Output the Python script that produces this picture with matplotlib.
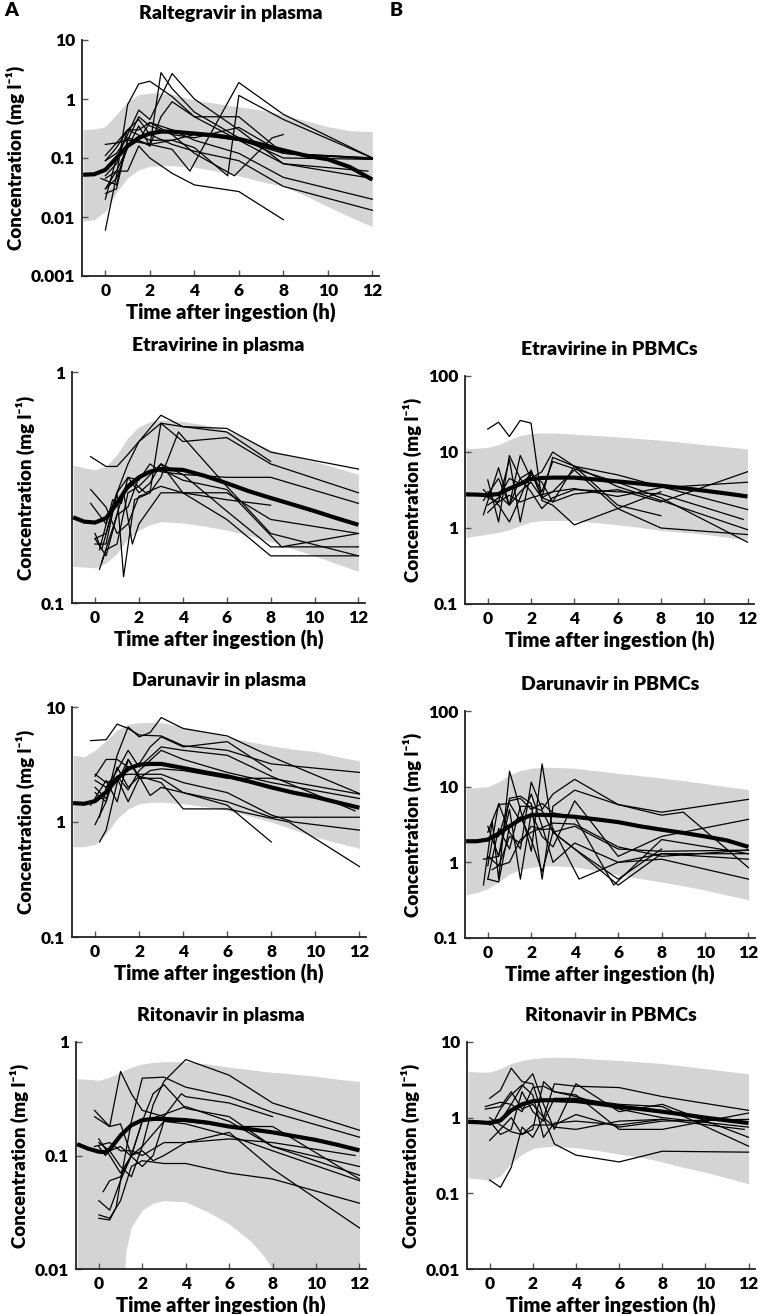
import numpy as np
import matplotlib
matplotlib.use("Agg")
from matplotlib import pyplot as plt

plt.rcParams['font.family'] = ['Lato', 'DejaVu Sans']
plt.rcParams['font.weight'] = 'heavy'

band_col = '#d4d4d4'

# ---------------- Raltegravir in plasma ----------------
ral_bt = [-1, -0.5, 0, 0.5, 1, 1.5, 2, 2.5, 3, 4, 5, 6, 7, 8, 9, 10, 11, 12]
ral_hi = [0.30, 0.31, 0.34, 0.55, 0.91, 1.18, 1.26, 1.26, 1.2, 0.96, 0.84, 0.74, 0.65, 0.54, 0.43, 0.34, 0.29, 0.28]
ral_lo = [0.0085, 0.009, 0.0125, 0.026, 0.046, 0.063, 0.072, 0.074, 0.074, 0.07, 0.06, 0.05, 0.04, 0.033, 0.023, 0.015, 0.01, 0.0069]
ral_med = [0.052, 0.053, 0.063, 0.1, 0.16, 0.22, 0.26, 0.28, 0.28, 0.26, 0.24, 0.21, 0.17, 0.135, 0.11, 0.095, 0.07, 0.043]
ral_t = [
    [0, 0.5, 1, 1.5, 2, 3, 4, 6, 8, 12],
    [0, 0.5, 1, 1.5, 2, 2.5, 3, 4, 6, 8, 12],
    [0, 0.5, 1, 1.5, 2, 3, 4, 6, 8, 11.8],
    [0, 0.5, 1, 2, 3, 3.8, 6, 8, 12],
    [0, 0.5, 1, 1.5, 2, 3, 4, 5.8, 7.5, 8],
    [0, 0.5, 1, 1.5, 2, 3, 4, 6, 8],
    [0, 0.5, 1, 2, 3, 4, 5.5, 6, 8, 12],
    [-0.2, 0.5, 1, 1.5, 2, 3, 4, 6, 8, 12],
    [0, 0.5, 1, 1.5, 2, 3, 4, 6, 8, 12],
    [0, 0.5, 1, 1.5, 2, 3, 4, 6, 8, 12],
    [0, 0.5, 1, 2, 3, 4, 6, 8, 12],
    [0, 0.5, 1, 1.5, 2, 2.5, 3, 4, 6, 8, 12],
]
ral_c = [
    [0.006, 0.05, 0.8, 1.8, 2.0, 1.1, 0.5, 0.2, 0.12, 0.1],
    [0.03, 0.045, 0.15, 0.35, 0.16, 2.8, 1.5, 0.6, 0.22, 0.1, 0.095],
    [0.02, 0.1, 0.25, 0.65, 0.45, 2.7, 1.0, 0.3, 0.08, 0.06],
    [0.09, 0.12, 0.22, 0.17, 0.14, 0.06, 1.9, 0.55, 0.1],
    [0.05, 0.08, 0.3, 0.3, 0.4, 0.25, 0.12, 0.05, 0.22, 0.25],
    [0.045, 0.06, 0.06, 0.16, 0.1, 0.055, 0.035, 0.027, 0.009],
    [0.11, 0.18, 0.3, 0.2, 0.2, 0.15, 0.05, 1.15, 0.45, 0.1],
    [0.045, 0.035, 0.2, 0.5, 0.35, 0.25, 0.22, 0.33, 0.12, 0.095],
    [0.025, 0.03, 0.2, 0.2, 0.4, 0.3, 0.2, 0.12, 0.047, 0.02],
    [0.09, 0.15, 0.3, 0.45, 0.25, 0.17, 0.13, 0.09, 0.033, 0.013],
    [0.17, 0.18, 0.2, 0.17, 0.2, 0.25, 0.2, 0.08, 0.045],
    [0.03, 0.06, 0.15, 0.2, 0.16, 0.5, 0.9, 0.5, 0.5, 0.12, 0.1],
]

# ---------------- Etravirine in plasma ----------------
etp_bt = [-1, -0.5, 0, 0.5, 1, 1.5, 2, 2.5, 3, 4, 5, 6, 7, 8, 9, 10, 11, 12]
etp_hi = [0.395, 0.385, 0.377, 0.39, 0.44, 0.52, 0.58, 0.61, 0.62, 0.61, 0.59, 0.56, 0.51, 0.46, 0.43, 0.41, 0.385, 0.36]
etp_lo = [0.144, 0.143, 0.142, 0.149, 0.164, 0.19, 0.207, 0.218, 0.225, 0.222, 0.215, 0.207, 0.196, 0.185, 0.172, 0.16, 0.148, 0.137]
etp_med = [0.235, 0.225, 0.223, 0.233, 0.27, 0.32, 0.35, 0.37, 0.38, 0.377, 0.355, 0.33, 0.305, 0.285, 0.267, 0.25, 0.233, 0.218]
etp_t = [
    [-0.2, 0.5, 1, 1.5, 2, 3, 4, 6, 8],
    [0, 0.5, 1, 1.5, 2, 3, 4, 6, 8, 12],
    [-0.2, 0.5, 1, 1.5, 2, 2.5, 3, 4, 6, 8, 12],
    [-0.2, 0.5, 1, 1.5, 2, 2.5, 3, 4, 6, 8, 12],
    [0, 0.5, 1, 1.3, 1.8, 2.5, 3, 3.8, 6, 8, 12],
    [0.2, 0.5, 1, 1.5, 2, 3, 4, 6, 8, 12],
    [0, 0.3, 0.8, 1.3, 1.7, 2, 3, 4, 6, 8],
    [0.2, 0.8, 1.2, 1.5, 2, 2.5, 3, 4, 6, 8, 12],
    [0, 0.5, 1, 1.5, 2, 3, 4, 6, 8.5, 12],
    [0.3, 0.8, 1.3, 1.8, 2.3, 3, 4, 6, 8, 12],
]
etp_c = [
    [0.43, 0.39, 0.39, 0.44, 0.5, 0.6, 0.58, 0.55, 0.41],
    [0.19, 0.2, 0.3, 0.4, 0.5, 0.65, 0.58, 0.57, 0.45, 0.38],
    [0.31, 0.26, 0.2, 0.22, 0.29, 0.3, 0.6, 0.5, 0.52, 0.4, 0.3],
    [0.27, 0.22, 0.3, 0.35, 0.34, 0.4, 0.37, 0.36, 0.25, 0.175, 0.175],
    [0.18, 0.18, 0.3, 0.13, 0.28, 0.3, 0.35, 0.55, 0.32, 0.2, 0.16],
    [0.14, 0.17, 0.18, 0.3, 0.32, 0.4, 0.36, 0.35, 0.35, 0.27],
    [0.2, 0.17, 0.25, 0.3, 0.18, 0.22, 0.3, 0.3, 0.28, 0.265],
    [0.17, 0.28, 0.27, 0.35, 0.3, 0.33, 0.4, 0.3, 0.23, 0.16, 0.16],
    [0.19, 0.16, 0.24, 0.26, 0.35, 0.38, 0.34, 0.31, 0.175, 0.2],
    [0.15, 0.21, 0.3, 0.33, 0.3, 0.32, 0.3, 0.3, 0.23, 0.2],
]

# ---------------- Etravirine in PBMCs ----------------
etc_bt = [-1, -0.5, 0, 0.5, 1, 1.5, 2, 2.5, 3, 4, 5, 6, 7, 8, 9, 10, 11, 12]
etc_hi = [11, 11.2, 11.5, 12.5, 14.5, 16.5, 17.5, 17.8, 17.8, 17.2, 16.5, 15.8, 15, 14.3, 13.4, 12.5, 11.7, 11]
etc_lo = [0.75, 0.79, 0.83, 0.88, 0.95, 1.08, 1.2, 1.25, 1.26, 1.25, 1.18, 1.1, 1.02, 0.93, 0.88, 0.83, 0.76, 0.69]
etc_med = [2.77, 2.75, 2.7, 2.8, 3.3, 3.8, 4.4, 4.55, 4.6, 4.6, 4.35, 4.1, 3.85, 3.6, 3.35, 3.1, 2.85, 2.6]
etc_t = [
    [0, 0.5, 1, 1.5, 2, 2.5, 3, 4, 6, 8],
    [-0.2, 0.5, 1, 1.5, 2, 2.5, 3, 4, 6, 8, 12],
    [0, 0.5, 1, 1.5, 2, 2.5, 3, 4, 6, 8, 12],
    [0, 0.5, 1, 1.5, 2, 2.5, 3, 4, 6, 8, 12],
    [-0.2, 0.5, 1, 1.5, 2, 2.5, 3, 4, 6, 8, 12],
    [0, 0.5, 1, 1.5, 2, 2.5, 3, 4, 6, 8, 12],
    [-0.2, 0.5, 1, 1.5, 2, 2.5, 3, 4, 6, 8],
    [0, 0.5, 1, 1.5, 2, 2.5, 3, 4, 6, 8, 11.8],
    [0, 0.5, 1, 1.5, 2, 3, 4, 6, 8, 12],
]
etc_c = [
    [20, 24.7, 16, 26, 24, 2.3, 2.0, 1.1, 1.8, 3.0],
    [1.5, 6.2, 2.0, 9.0, 4.5, 5.5, 10, 6.5, 3.5, 2.3, 0.95],
    [4.3, 1.2, 9.0, 4.5, 5.5, 2.5, 8.5, 6.5, 5.0, 3.5, 1.75],
    [1.6, 2.2, 8.0, 1.2, 5.5, 3.0, 7.5, 6.0, 4.0, 2.5, 0.65],
    [3.2, 2.0, 1.2, 2.5, 5.8, 2.5, 3.0, 5.8, 1.8, 1.0, 0.82],
    [2.0, 2.5, 4.5, 3.8, 5.0, 4.0, 2.2, 2.8, 3.2, 2.2, 5.5],
    [2.3, 4.5, 2.0, 3.0, 4.0, 2.5, 2.2, 6.5, 2.0, 1.45],
    [3.0, 2.7, 2.0, 4.5, 3.0, 1.8, 2.5, 3.2, 3.0, 2.8, 1.3],
    [2.5, 2.2, 2.7, 2.2, 2.5, 3.0, 3.3, 2.6, 3.4, 4.0],
]

# ---------------- Darunavir in plasma ----------------
drp_bt = [-1, -0.5, 0, 0.5, 1, 1.5, 2, 2.5, 3, 4, 5, 6, 7, 8, 9, 10, 11, 12]
drp_hi = [3.8, 3.7, 4.2, 5.1, 6.3, 7.1, 7.3, 7.35, 7.3, 6.7, 6.1, 5.5, 5.0, 4.6, 4.3, 4.1, 3.7, 3.4]
drp_lo = [0.61, 0.61, 0.64, 0.79, 1.07, 1.3, 1.44, 1.48, 1.49, 1.44, 1.36, 1.26, 1.13, 1.0, 0.86, 0.74, 0.66, 0.59]
drp_med = [1.46, 1.44, 1.52, 1.82, 2.38, 2.9, 3.15, 3.2, 3.2, 2.95, 2.7, 2.5, 2.25, 2.0, 1.8, 1.65, 1.48, 1.33]
drp_t = [
    [-0.2, 0.5, 1, 1.5, 2, 3, 4, 6, 8, 12],
    [0, 0.5, 1, 1.5, 2, 2.5, 3, 4, 6, 8, 12],
    [0, 0.5, 1, 1.5, 2, 2.5, 3, 4, 6, 8],
    [0.2, 0.5, 1, 1.5, 2, 3, 4, 6, 8],
    [0, 0.5, 1, 1.5, 2, 3, 4, 6, 8.8, 12],
    [-0.2, 0.5, 1, 1.5, 2, 2.5, 3, 4, 6, 8, 12],
    [0, 0.5, 1, 1.5, 2, 3, 4, 6, 8, 12],
    [0, 0.5, 1, 1.5, 2, 2.5, 3, 4, 6, 8, 12],
    [0.2, 0.5, 1, 1.5, 2, 3, 4, 6, 8, 9, 12],
    [0, 0.5, 1, 1.5, 2, 3, 4, 6, 8, 11.8],
]
drp_c = [
    [5.1, 5.2, 7.1, 6.5, 5.7, 5.6, 4.6, 4.2, 3.2, 2.7],
    [1.8, 1.5, 3.8, 6.7, 5.5, 6.0, 8.1, 6.5, 5.6, 3.7, 1.77],
    [2.5, 3.5, 3.5, 3.0, 3.2, 4.5, 5.5, 4.5, 5.0, 2.8],
    [0.67, 0.85, 2.2, 3.5, 2.4, 2.4, 1.8, 1.4, 0.67],
    [0.95, 1.5, 3.0, 2.0, 2.5, 2.2, 1.3, 1.3, 1.0, 0.41],
    [1.4, 2.3, 1.5, 3.5, 2.5, 1.7, 2.0, 1.8, 1.5, 1.1, 1.1],
    [2.0, 1.6, 2.5, 1.9, 2.8, 4.2, 3.5, 2.7, 2.2, 1.6],
    [2.6, 2.2, 2.4, 1.5, 2.4, 2.8, 2.9, 2.8, 2.4, 2.4, 1.75],
    [1.1, 2.0, 2.5, 2.6, 2.6, 2.6, 2.2, 1.8, 1.15, 1.0, 0.85],
    [2.3, 2.0, 2.8, 4.2, 3.0, 4.5, 4.2, 3.8, 2.5, 1.25],
]

# ---------------- Darunavir in PBMCs ----------------
drc_bt = [-1, -0.5, 0, 0.5, 1, 1.5, 2, 2.5, 3, 4, 5, 6, 7, 8, 9, 10, 11, 12]
drc_hi = [9.5, 9.7, 10, 11.6, 14.3, 16.3, 17.5, 18, 18, 17.5, 16.2, 15, 14, 13, 12, 11, 10, 9.2]
drc_lo = [0.37, 0.4, 0.45, 0.55, 0.7, 0.8, 0.86, 0.89, 0.9, 0.87, 0.78, 0.68, 0.61, 0.55, 0.49, 0.43, 0.37, 0.32]
drc_med = [1.9, 1.9, 2.0, 2.4, 3.0, 3.7, 4.2, 4.25, 4.2, 4.0, 3.7, 3.4, 3.0, 2.7, 2.45, 2.2, 1.95, 1.6]
drc_t = [
    [-0.2, 0.2, 0.5, 1, 1.5, 2, 2.5, 3, 4, 6, 8, 12],
    [0, 0.5, 1, 1.5, 2, 2.5, 3, 4, 6, 8, 9, 12],
    [0, 0.5, 1, 1.5, 2, 2.5, 3, 4, 6, 8, 12],
    [-0.2, 0.5, 1, 1.5, 2, 2.5, 3, 4, 6, 8, 12],
    [0, 0.5, 1, 1.5, 2, 2.5, 3, 4, 6, 8, 12],
    [0, 0.5, 1, 1.5, 2, 2.5, 3, 4, 6, 8, 12],
    [0, 0.5, 1, 1.5, 2, 2.5, 3, 4, 6, 8],
    [0, 0.5, 1, 1.5, 2, 2.5, 3, 4.2, 6, 8, 12],
    [0.2, 0.5, 1, 1.5, 2, 3, 4, 6, 8, 12],
    [0, 0.5, 1, 1.5, 2, 2.5, 3, 4, 5.8, 8, 12],
]
drc_c = [
    [0.5, 3.5, 0.6, 16, 5.0, 1.4, 20, 2.5, 1.5, 0.5, 1.3, 1.3],
    [0.9, 6.0, 2.5, 1.5, 11.5, 5.0, 8.0, 12.5, 5.8, 4.2, 4.6, 0.85],
    [3.0, 1.2, 7.0, 7.5, 6.0, 0.6, 5.5, 9.0, 5.8, 4.6, 6.8],
    [1.1, 1.2, 5.0, 0.6, 4.5, 2.2, 1.6, 6.5, 1.2, 2.2, 3.7],
    [0.6, 0.55, 3.0, 4.0, 2.0, 0.75, 2.5, 3.0, 1.5, 1.4, 1.45],
    [2.5, 5.8, 6.0, 3.5, 8.0, 3.0, 1.0, 1.8, 1.0, 1.3, 1.1],
    [0.6, 2.8, 1.5, 5.5, 5.5, 4.8, 2.5, 1.5, 0.6, 1.5],
    [1.2, 0.9, 2.2, 1.8, 3.0, 2.7, 2.8, 0.6, 1.0, 1.1, 0.6],
    [0.8, 0.9, 1.0, 2.0, 2.5, 3.3, 3.2, 1.6, 1.2, 1.45],
    [2.0, 2.2, 6.5, 7.0, 5.0, 6.0, 4.5, 4.0, 0.5, 2.0, 1.3],
]

# ---------------- Ritonavir in plasma ----------------
rtp_bt = [-1, -0.5, 0, 0.5, 1, 1.1, 1.15, 1.25, 1.5, 2, 2.5, 3, 4, 5, 6, 7, 7.6, 8, 8.3, 9, 10, 11, 12]
rtp_hi = [0.475, 0.47, 0.46, 0.49, 0.54, 0.55, 0.56, 0.57, 0.6, 0.64, 0.66, 0.67, 0.67, 0.64, 0.6, 0.57, 0.55, 0.54, 0.535, 0.52, 0.5, 0.47, 0.45]
rtp_lo = [0.001, 0.001, 0.001, 0.001, 0.001, 0.004, 0.008, 0.0145, 0.0235, 0.033, 0.038, 0.04, 0.039, 0.032, 0.025, 0.0175, 0.013, 0.01, 0.007, 0.001, 0.001, 0.001, 0.001]
rtp_mt = [-1, -0.5, 0, 0.3, 0.5, 1, 1.5, 2, 2.5, 3, 4, 5, 6, 7, 8, 9, 10, 11, 12]
rtp_med = [0.126, 0.115, 0.108, 0.107, 0.113, 0.15, 0.185, 0.205, 0.21, 0.21, 0.205, 0.195, 0.18, 0.17, 0.16, 0.148, 0.137, 0.124, 0.111]
rtp_t = [
    [-0.2, 0.5, 1, 1.5, 2, 2.5, 3, 4, 6, 8, 12],
    [0, 0.5, 1, 1.5, 2, 3, 4, 6, 8, 12],
    [-0.2, 0.5, 1, 1.5, 2, 3, 3.8, 4, 6, 8],
    [0, 0.5, 1, 1.5, 2, 2.5, 3, 4, 6, 8, 12],
    [0.2, 0.5, 1, 1.5, 2, 2.5, 3, 4, 6, 8, 12],
    [0, 0.5, 1, 1.5, 2, 3, 4, 6, 8, 12],
    [-0.2, 0.5, 1, 1.5, 2, 3, 4, 6, 8, 11.8],
    [0, 0.3, 0.5, 1, 1.5, 2, 3, 4, 6, 8, 12],
    [0, 0.5, 0.8, 1, 1.5, 2, 3, 4, 6, 8, 12],
    [0, 0.5, 1, 2, 2.5, 3, 4, 6, 8, 12],
]
rtp_c = [
    [0.25, 0.18, 0.19, 0.1, 0.12, 0.28, 0.45, 0.7, 0.51, 0.29, 0.167],
    [0.04, 0.033, 0.06, 0.2, 0.48, 0.49, 0.4, 0.33, 0.24, 0.145],
    [0.22, 0.18, 0.55, 0.35, 0.25, 0.22, 0.35, 0.33, 0.29, 0.22],
    [0.14, 0.1, 0.07, 0.1, 0.2, 0.35, 0.42, 0.26, 0.22, 0.12, 0.067],
    [0.048, 0.06, 0.065, 0.1, 0.11, 0.09, 0.1, 0.13, 0.16, 0.076, 0.023],
    [0.03, 0.028, 0.04, 0.08, 0.09, 0.085, 0.085, 0.07, 0.062, 0.038],
    [0.12, 0.13, 0.11, 0.11, 0.1, 0.13, 0.13, 0.14, 0.13, 0.1],
    [0.12, 0.1, 0.11, 0.08, 0.065, 0.12, 0.2, 0.2, 0.18, 0.18, 0.062],
    [0.028, 0.027, 0.035, 0.06, 0.1, 0.2, 0.23, 0.27, 0.2, 0.12, 0.08],
    [0.13, 0.11, 0.12, 0.08, 0.1, 0.2, 0.19, 0.15, 0.11, 0.06],
]

# ---------------- Ritonavir in PBMCs ----------------
rtc_bt = [-1, -0.5, 0, 0.5, 1, 1.5, 2, 2.5, 3, 4, 5, 6, 7, 8, 9, 10, 11, 12]
rtc_hi = [4.1, 4.0, 4.0, 4.45, 5.2, 5.7, 6.0, 6.2, 6.3, 6.2, 5.9, 5.7, 5.45, 5.2, 4.8, 4.45, 4.1, 3.8]
rtc_lo = [0.161, 0.155, 0.148, 0.17, 0.25, 0.33, 0.39, 0.41, 0.42, 0.4, 0.37, 0.33, 0.3, 0.26, 0.22, 0.19, 0.16, 0.134]
rtc_med = [0.88, 0.87, 0.85, 0.92, 1.25, 1.5, 1.65, 1.7, 1.7, 1.66, 1.53, 1.4, 1.3, 1.2, 1.1, 1.0, 0.92, 0.85]
rtc_t = [
    [0, 0.5, 1, 1.5, 2, 2.5, 3, 4, 6, 8, 12],
    [0, 0.5, 1, 1.5, 2, 2.5, 3, 4, 6, 8, 12],
    [-0.2, 0.5, 1, 1.5, 2, 2.5, 3, 4, 6, 8, 12],
    [0, 0.5, 1, 1.5, 2, 2.5, 3, 4, 6, 8, 12],
    [0, 0.5, 1, 1.5, 2, 2.5, 3, 4, 6, 8, 12],
    [-0.2, 0.5, 1, 1.5, 2, 2.5, 3, 4, 6, 8],
    [0, 0.5, 1, 1.5, 2, 2.5, 3, 4, 6, 8, 12],
    [0, 0.5, 1, 1.5, 2, 3, 4, 6, 8, 12],
    [0.2, 0.5, 1, 1.5, 2, 2.5, 3, 4, 6, 8, 11.8],
]
rtc_c = [
    [0.15, 0.12, 0.22, 0.75, 0.55, 1.0, 0.45, 0.32, 0.26, 0.36, 0.35],
    [1.8, 2.3, 4.5, 3.0, 2.8, 1.0, 2.8, 2.6, 2.5, 1.9, 1.25],
    [1.4, 1.6, 1.5, 2.6, 3.8, 1.5, 0.7, 2.8, 1.2, 1.5, 0.55],
    [0.5, 0.7, 1.0, 0.6, 0.7, 3.0, 2.2, 2.0, 0.7, 0.7, 1.15],
    [0.9, 0.6, 0.7, 2.2, 1.2, 0.9, 1.8, 1.8, 1.5, 1.4, 0.42],
    [1.3, 1.4, 2.2, 1.3, 1.5, 1.0, 0.75, 0.7, 0.9, 0.95],
    [0.8, 0.9, 1.5, 1.2, 2.5, 2.6, 2.2, 1.9, 1.3, 1.0, 0.75],
    [1.0, 0.8, 0.65, 0.6, 0.8, 0.8, 1.1, 0.75, 0.9, 0.95],
    [0.9, 1.3, 2.0, 2.7, 2.0, 0.55, 0.85, 0.9, 0.8, 0.95, 0.7],
]

W, H = 764, 1314
fig = plt.figure(figsize=(W / 100, H / 100), dpi=100)


def panel(rect, title, bt, lo, hi, mt, med, subj_t, subj_c, yticks, ylabels):
    l, r, t, b = rect
    ax = fig.add_axes([l / W, 1 - b / H, (r - l) / W, (b - t) / H])
    ax.fill_between(bt, lo, hi, color=band_col, lw=0, zorder=1)
    for st, sc in zip(subj_t, subj_c):
        ax.plot(st, sc, color='k', lw=0.9, zorder=2)
    ax.plot(mt, med, color='k', lw=3.0, zorder=3, solid_capstyle='butt')
    ax.set_yscale('log')
    ax.set_ylim(yticks[0], yticks[-1])
    ax.set_xlim(-1.05, 12.3)
    ax.set_yticks(yticks, ylabels)
    ax.minorticks_off()
    ax.set_xticks([0, 2, 4, 6, 8, 10, 12], ['0', '2', '4', '6', '8', '10', '12'])
    for s in ['top', 'right']:
        ax.spines[s].set_visible(False)
    for s in ['left', 'bottom']:
        ax.spines[s].set_linewidth(1.3)
        ax.spines[s].set_color('#222222')
    ax.tick_params(direction='in', length=4, width=1.0, color='#555555', labelsize=12.5, pad=5)
    ax.set_title(title, fontsize=14, fontweight='heavy', pad=15)
    ax.set_xlabel('Time after ingestion (h)', fontsize=14.5, fontweight='heavy', labelpad=3)
    ax.set_ylabel('Concentration (mg l\u207b\u00b9)', fontsize=13.5, fontweight='heavy', labelpad=4)
    return ax


panel((82, 379, 40, 276), 'Raltegravir in plasma', ral_bt, ral_lo, ral_hi, ral_bt, ral_med,
      ral_t, ral_c, [0.001, 0.01, 0.1, 1, 10], ['0.001', '0.01', '0.1', '1', '10'])
panel((72, 365, 372, 603), 'Etravirine in plasma', etp_bt, etp_lo, etp_hi, etp_bt, etp_med,
      etp_t, etp_c, [0.1, 1], ['0.1', '1'])
panel((465, 754, 376, 604), 'Etravirine in PBMCs', etc_bt, etc_lo, etc_hi, etc_bt, etc_med,
      etc_t, etc_c, [0.1, 1, 10, 100], ['0.1', '1', '10', '100'])
panel((72, 366, 707, 937), 'Darunavir in plasma', drp_bt, drp_lo, drp_hi, drp_bt, drp_med,
      drp_t, drp_c, [0.1, 1, 10], ['0.1', '1', '10'])
panel((465, 755, 711, 938), 'Darunavir in PBMCs', drc_bt, drc_lo, drc_hi, drc_bt, drc_med,
      drc_t, drc_c, [0.1, 1, 10, 100], ['0.1', '1', '10', '100'])
panel((76, 366, 1042, 1269), 'Ritonavir in plasma', rtp_bt, rtp_lo, rtp_hi, rtp_mt, rtp_med,
      rtp_t, rtp_c, [0.01, 0.1, 1], ['0.01', '0.1', '1'])
panel((467, 755, 1042, 1269), 'Ritonavir in PBMCs', rtc_bt, rtc_lo, rtc_hi, rtc_bt, rtc_med,
      rtc_t, rtc_c, [0.01, 0.1, 1, 10], ['0.01', '0.1', '1', '10'])

fig.text(4 / W, 1 - 11 / H, 'A', fontsize=14, fontweight='heavy', va='center', ha='left')
fig.text(390 / W, 1 - 11 / H, 'B', fontsize=14, fontweight='heavy', va='center', ha='left')

fig.savefig('out.png', dpi=100)
